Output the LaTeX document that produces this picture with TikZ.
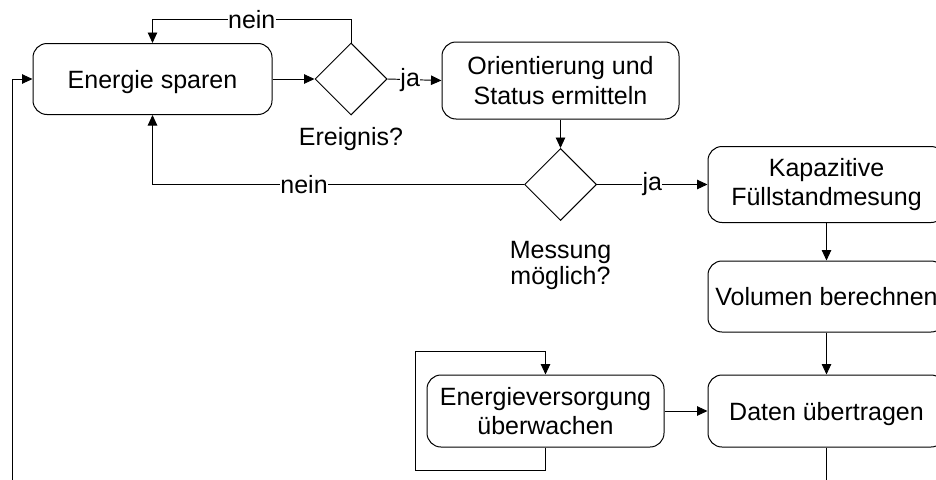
\documentclass[tikz,border=0pt]{standalone}
\usepackage{fontspec}
\setmainfont{Liberation Sans}
\usetikzlibrary{shapes.geometric,arrows.meta}
\begin{document}
\begin{tikzpicture}[x=1pt,y=-1pt,
  every node/.style={font=\fontsize{25}{29.5}\selectfont},
  box/.style={draw, line width=1pt, rounded corners=14pt, align=center, inner sep=0pt},
  dec/.style={draw, diamond, aspect=1, minimum width=72pt, minimum height=72pt, inner sep=0pt, line width=1pt},
  arr/.style={-{Triangle[length=10.5pt,width=9.5pt]}, line width=0.95pt},
  lbl/.style={fill=white, inner sep=0.5pt},
  txt/.style={inner sep=0pt, align=center}]
\useasboundingbox (0,0) rectangle (936,479);
\clip (0,0) rectangle (936,479);

% process steps and decisions
\node[box, minimum width=239pt, minimum height=71pt, text depth=0pt] (b1) at (152.5,79) {Energie sparen};
\node[dec] (d1) at (351,79) {};
\node[box, minimum width=237pt, minimum height=77pt] (b2) at (560.5,80.5) {Orientierung und\\Status ermitteln};
\node[dec] (d2) at (560.5,184.5) {};
\node[box, minimum width=237pt, minimum height=76pt] (b3) at (826.5,184.5) {Kapazitive\\Füllstandmesung};
\node[box, minimum width=237pt, minimum height=71pt] (b4) at (826.5,296.5) {Volumen berechnen};
\node[box, minimum width=237pt, minimum height=72pt, text depth=0pt] (b5) at (826.5,411) {Daten übertragen};
\node[box, minimum width=237pt, minimum height=72pt] (b6) at (545.5,411) {Energieversorgung\\überwachen};

% decision captions
\node[txt, anchor=base] (q1) at (351,145.5) {Ereignis?};
\node[txt, anchor=north, font=\fontsize{25}{26.7}\selectfont] (q2) at (560.5,240.7) {Messung\\möglich?};

% helper points for the routed loops
\coordinate (s1) at (415,470);
\coordinate (s2) at (415,351);
\coordinate (r1) at (826.5,495);
\coordinate (l1) at (12,495);

% connectors
\draw[arr] (b1.east) -- (d1.west);
\draw[arr] (d1.east) -- node[lbl,pos=0.42]{ja} (b2.west);
\draw[arr] (d1.north) -- ++(0,-23) -| node[lbl,pos=0.25]{nein} (b1.north);
\draw[arr] (b2.south) -- (d2.north);
\draw[arr] (d2.east) -- node[lbl,pos=0.5]{ja} (b3.west);
\draw[arr] (d2.west) -| node[lbl,pos=0.296]{nein} (b1.south);
\draw[arr] (b3.south) -- (b4.north);
\draw[arr] (b4.south) -- (b5.north);
\draw[arr] (b6.east) -- (b5.west);
\draw[arr] (b6.south) |- (s1) -- (s2) -| (b6.north);
\draw[arr] (b5.south) -- (r1) -- (l1) |- (b1.west);
\end{tikzpicture}
\end{document}
